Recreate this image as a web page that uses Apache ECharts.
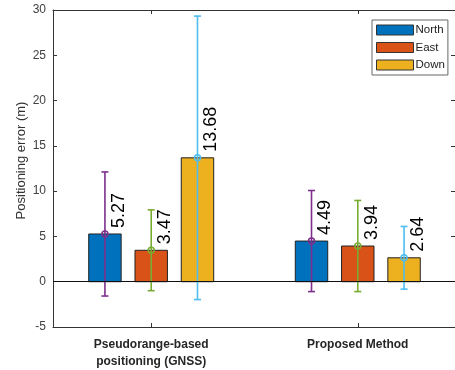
<!DOCTYPE html>
<html>
<head>
<meta charset="utf-8">
<script src="https://cdn.jsdelivr.net/npm/echarts@6/dist/echarts.min.js"></script>
<style>
html,body{margin:0;padding:0;background:#fff;}
#chart{width:455px;height:370px;}
</style>
</head>
<body>
<div id="chart"></div>
<script>
const categories = ['Pseudorange-based\npositioning (GNSS)', 'Proposed Method'];
const seriesNames = ['North', 'East', 'Down'];
const northMean = [5.27, 4.49];
const eastMean = [3.47, 3.94];
const downMean = [13.68, 2.64];
const northStd = [6.85, 5.58];
const eastStd = [4.46, 5.03];
const downStd = [15.65, 3.46];
const yTicks = [-5, 0, 5, 10, 15, 20, 25, 30];

const barColors = ['#0072BD', '#D95319', '#EDB120'];
const errColors = ['#7E2F8E', '#77AC30', '#4DBEEE'];
const FONT = '"Liberation Sans", Arial, sans-serif';
const GROUP_STEP = 0.224;
const BAR_W = 0.157;

const means = [northMean, eastMean, downMean];
const stds = [northStd, eastStd, downStd];

function makeRender(sIdx) {
  return function (params, api) {
    const cat = api.value(0), mean = api.value(1), sd = api.value(2);
    const unit = api.size([1, 0])[0];
    const off = (sIdx - 1) * GROUP_STEP * unit;
    const base = api.coord([cat, 0]);
    const top = api.coord([cat, mean]);
    const cx = base[0] + off;
    const bw = BAR_W * unit;
    const hi = api.coord([cat, mean + sd])[1];
    const lo = api.coord([cat, mean - sd])[1];
    const ec = errColors[sIdx];
    const cap = 3.5;
    return {
      type: 'group',
      children: [
        {type: 'rect', shape: {x: cx - bw / 2, y: top[1], width: bw, height: base[1] - top[1]},
         style: {fill: barColors[sIdx], stroke: '#222', lineWidth: 1}},
        {type: 'line', shape: {x1: cx, y1: hi, x2: cx, y2: lo}, style: {stroke: ec, lineWidth: 1.6}},
        {type: 'line', shape: {x1: cx - cap, y1: hi, x2: cx + cap, y2: hi}, style: {stroke: ec, lineWidth: 1.6}},
        {type: 'line', shape: {x1: cx - cap, y1: lo, x2: cx + cap, y2: lo}, style: {stroke: ec, lineWidth: 1.6}},
        {type: 'circle', shape: {cx: cx, cy: top[1], r: 3}, style: {fill: 'none', stroke: ec, lineWidth: 1.5}},
        {type: 'text', x: cx + 14, y: top[1] - 6, rotation: Math.PI / 2,
         style: {text: mean.toFixed(2), fill: '#000', font: '18px ' + FONT,
                 align: 'left', verticalAlign: 'middle', textAlign: 'left', textVerticalAlign: 'middle'}}
      ]
    };
  };
}

const series = seriesNames.map(function (name, s) {
  const obj = {
    name: name,
    type: 'custom',
    renderItem: makeRender(s),
    itemStyle: {color: barColors[s], borderColor: '#333', borderWidth: 1},
    encode: {x: 0, y: [1]},
    data: means[s].map(function (m, i) { return [i + 1, m, stds[s][i]]; }),
    z: 3
  };
  if (s === 0) {
    obj.markLine = {
      silent: true, symbol: 'none', animation: false,
      label: {show: false},
      lineStyle: {color: '#111', width: 1, type: 'solid'},
      data: [{yAxis: 0}]
    };
  }
  return obj;
});

const chart = echarts.init(document.getElementById('chart'), null, {renderer: 'canvas'});
const axisCol = '#333';
chart.setOption({
  animation: false,
  backgroundColor: '#fff',
  grid: {left: 53, top: 10, width: 404, height: 320},
  legend: {
    data: seriesNames,
    orient: 'vertical',
    left: 372, top: 20,
    icon: 'rect',
    itemWidth: 37, itemHeight: 10, itemGap: 5.5,
    padding: [4, 3, 4, 4],
    borderColor: '#666', borderWidth: 1,
    backgroundColor: '#fff',
    textStyle: {fontFamily: FONT, fontSize: 11.5, color: '#222', padding: [0, 0, 0, -3]},
    itemStyle: {borderColor: '#333', borderWidth: 1}
  },
  xAxis: [{
    type: 'value', min: 0.5246, max: 2.4706, position: 'bottom',
    axisLine: {show: true, onZero: false, lineStyle: {color: axisCol}},
    axisTick: {show: true, inside: true, length: 4, customValues: [1, 2], lineStyle: {color: axisCol}},
    axisLabel: {show: true, customValues: [1, 2], margin: 9, fontFamily: FONT, fontSize: 12,
                fontWeight: 'bold', color: '#262626', lineHeight: 17,
                formatter: function (v) { return categories[Math.round(v) - 1] || ''; }},
    splitLine: {show: false}
  }, {
    type: 'value', min: 0.5246, max: 2.4706, position: 'top',
    axisLine: {show: true, onZero: false, lineStyle: {color: axisCol}},
    axisTick: {show: true, inside: true, length: 4, customValues: [1, 2], lineStyle: {color: axisCol}},
    axisLabel: {show: false},
    splitLine: {show: false}
  }],
  yAxis: [{
    type: 'value', min: yTicks[0], max: yTicks[yTicks.length - 1], interval: 5, position: 'left',
    name: 'Positioning error (m)', nameLocation: 'middle', nameGap: 25, nameRotate: 90,
    nameMoveOverlap: false,
    nameTextStyle: {fontFamily: FONT, fontSize: 13, color: '#333', padding: [0, 0, 0, 16]},
    axisLine: {show: true, onZero: false, lineStyle: {color: axisCol}},
    axisTick: {show: true, inside: true, length: 4, lineStyle: {color: axisCol}},
    axisLabel: {fontFamily: FONT, fontSize: 12, color: '#404040', margin: 7},
    splitLine: {show: false}
  }, {
    type: 'value', min: yTicks[0], max: yTicks[yTicks.length - 1], interval: 5, position: 'right',
    axisLine: {show: true, onZero: false, lineStyle: {color: axisCol}},
    axisTick: {show: true, inside: true, length: 4, lineStyle: {color: axisCol}},
    axisLabel: {show: false},
    splitLine: {show: false}
  }],
  series: series
});
</script>
</body>
</html>
